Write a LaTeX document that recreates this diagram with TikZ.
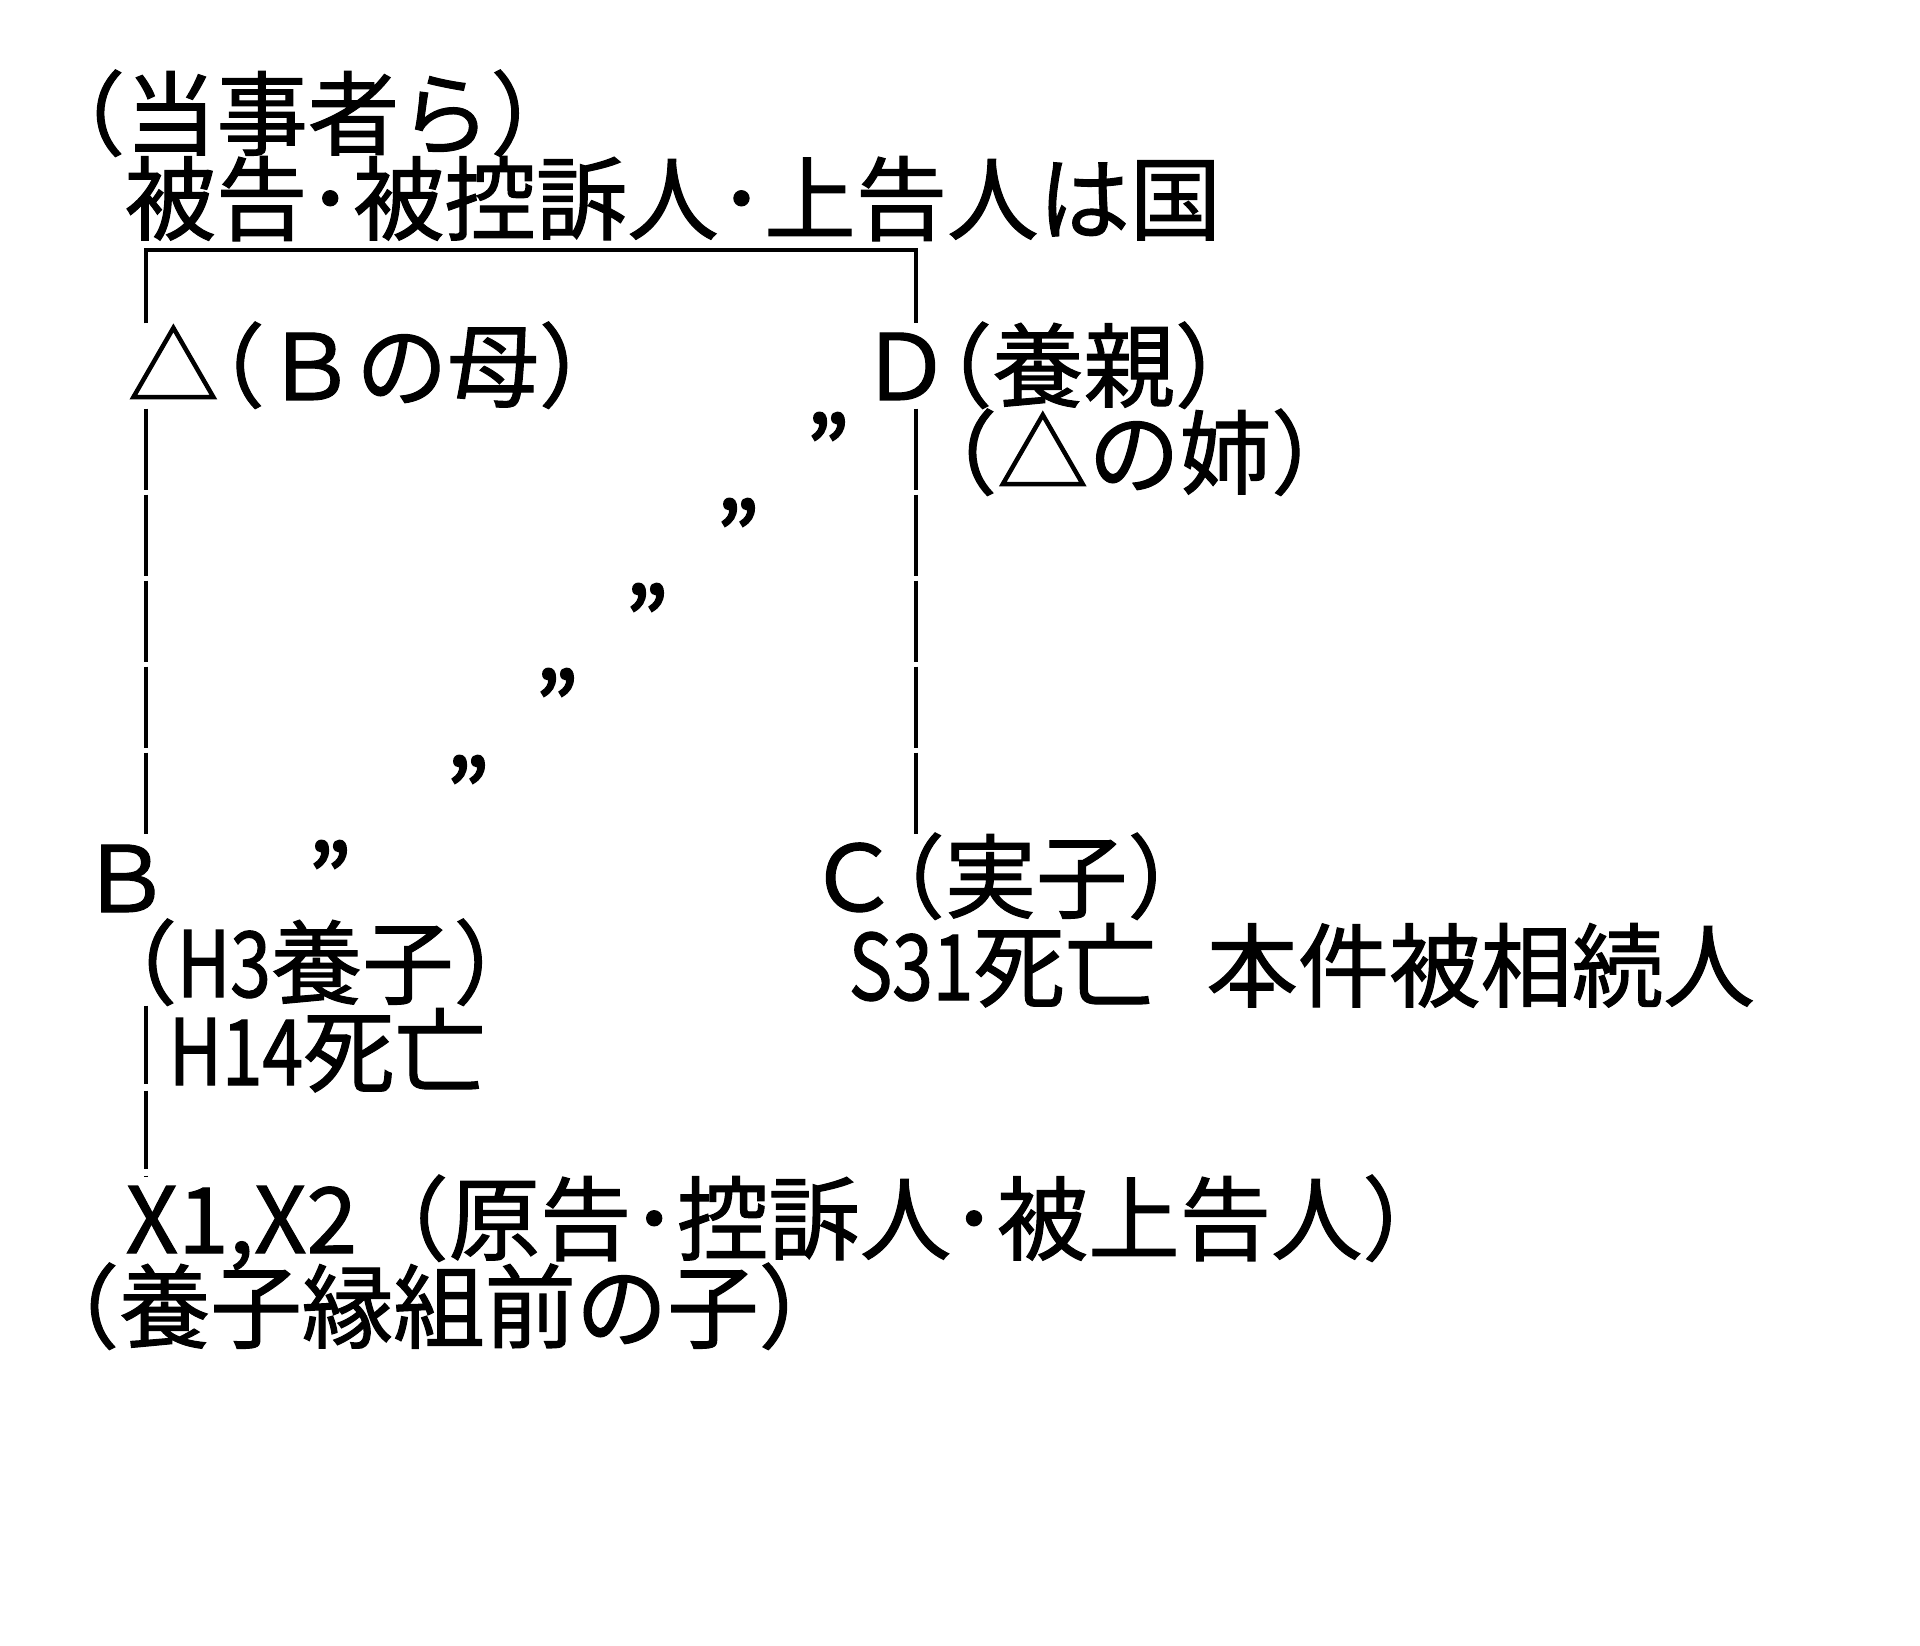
\documentclass[tikz,border=0pt]{standalone}
\usepackage{fontspec}
\setmainfont{Noto Sans CJK JP}[FakeBold=1.2]
\newfontfamily\narrowfont{Noto Sans CJK JP}[FakeStretch=0.8,FakeBold=1.2]
\newfontfamily\dittofont{Noto Sans CJK JP}[FakeBold=2.5]
\usetikzlibrary{positioning,calc}

\begin{document}
\begin{tikzpicture}[
		txt/.style={inner sep=0pt,anchor=base west,text height=0.76cm,text depth=0.08cm,font=\fontsize{26pt}{31pt}\selectfont},
		ditto/.style={inner sep=0pt,anchor=base,font=\dittofont\fontsize{26pt}{30pt}\selectfont},
		kin/.style={line width=1.05pt}]
		\useasboundingbox[fill=white] (0,0) rectangle (19.2,-16.46);

		\node[txt] (parties) at (0.33,-1.48) {（当事者ら）};
		\node[txt] (state) at (1.24,-2.33) {被告･被控訴人･上告人は国};
		\node[txt] (mother) at (1.27,-4.00) {△\kern-0.5em（Ｂの母）};
		\node[txt] (adopt) at (8.59,-4.00) {Ｄ\kern-0.55em（養親）};
		\node[txt] (sister) at (9.05,-4.87) {（△の姉）};
		\node[txt] (b) at (0.79,-9.12) {Ｂ};
		\node[txt] (c) at (8.07,-9.11) {Ｃ\kern-0.5em（実子）};
		\node[txt] (h3) at (0.85,-9.97) {（{\narrowfont H3}養子）};
		\node[txt] (s31) at (8.48,-10.00) {{\narrowfont S31}死亡\hspace{0.55em}本件被相続人};
		\node[txt] (h14) at (1.68,-10.85) {{\narrowfont H14}死亡};
		\node[txt] (x) at (1.25,-12.53) {X1,X2（原告･控訴人･被上告人）};
		\node[txt] (before) at (0.27,-13.41) {（養子縁組前の子）};

		\node[ditto] (d1) at (8.28,-4.84) {”};
		\node[ditto] (d2) at (7.38,-5.70) {”};
		\node[ditto] (d3) at (6.47,-6.55) {”};
		\node[ditto] (d4) at (5.57,-7.40) {”};
		\node[ditto] (d5) at (4.68,-8.27) {”};
		\node[ditto] (d6) at (3.30,-9.12) {”};

		\coordinate (barl) at (1.46,-2.50);
		\coordinate (barr) at (9.16,-2.50);

		\draw[kin] (barl |- mother.north) -- (barl) -- (barr) -- (barr |- adopt.north);
		\draw[kin,dash pattern=on 8.1mm off 0.5mm] (barl |- mother.south) -- (barl |- b.north);
		\draw[kin,dash pattern=on 8.1mm off 0.5mm] (barr |- adopt.south) -- (barr |- c.north);
		\draw[kin,dash pattern=on 7.8mm off 0.7mm] (barl |- h3.south) -- (barl |- x.north);
	\end{tikzpicture}
\end{document}
